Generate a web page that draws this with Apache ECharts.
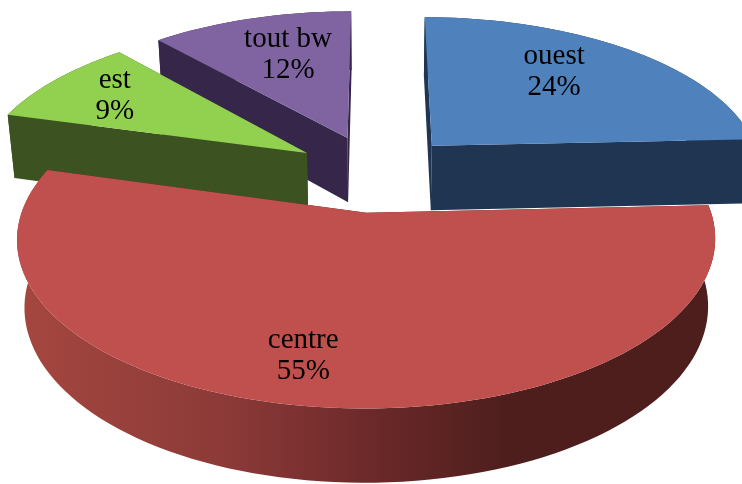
<!DOCTYPE html>
<html>
<head>
<meta charset="utf-8">
<style>
  html, body { margin: 0; padding: 0; background: #fff; }
  #charts { width: 742px; height: 484px; }
</style>
<script src="https://cdn.jsdelivr.net/npm/echarts@6/dist/echarts.min.js"></script>
</head>
<body>
<div id="charts"></div>
<script>
// chart data, clockwise from 12 o'clock
const categories = ["ouest", "centre", "est", "tout bw"];
const shares = [24.4, 55.3, 9.2, 11.6];
const topColors = ["#4f81bd", "#c0504d", "#92d050", "#8064a2"];
const wallColors = ["#1f3552", "#4e1e1d", "#3c5220", "#35264a"];

// fake 3d: the pie lies on a plane seen through a simple perspective
const view = { cx: 376, cy: 173, a: 332, b: 154.5, kx: 0.15, ky: 0.145, h: 67, m: 0.02 };
const explode = 0.25;
const firstAngle = 0;
// label centres on the plane, unit = pie radius
const labelPlaneX = [0.595, -0.186, -0.85, -0.299];
const labelPlaneY = [0.725, -1.01, 0.535, 0.856];

const total = shares.reduce((a, b) => a + b, 0);

function project(x, y, down) {
  const extra = down ? view.m : 0;
  return [
    view.cx + (view.a * x) / (1 + view.kx * y + extra),
    view.cy - (view.b * y - (down ? view.h : 0)) / (1 + view.ky * y + extra),
  ];
}

function startOf(i) {
  const before = shares.slice(0, i).reduce((a, b) => a + b, 0);
  return firstAngle + (before / total) * 360;
}

function midOf(i) {
  return ((startOf(i) + ((shares[i] / total) * 360) / 2) * Math.PI) / 180;
}

// further slices are painted first
function depthRank(i) {
  const order = categories.map((c, j) => j).sort((p, q) => Math.cos(midOf(q)) - Math.cos(midOf(p)));
  return order.indexOf(i);
}

function renderSlice(params, api) {
  const idx = params.dataIndex;
  const start = startOf(idx);
  const sweep = (api.value(0) / total) * 360;
  const ox = explode * Math.sin(midOf(idx));
  const oy = explode * Math.cos(midOf(idx));

  const rimTop = [];
  const rimBottom = [];
  const steps = Math.ceil(sweep / 2);
  for (let i = 0; i <= steps; i++) {
    const t = ((start + (sweep * i) / steps) * Math.PI) / 180;
    const x = ox + Math.sin(t);
    const y = oy + Math.cos(t);
    rimTop.push(project(x, y, false));
    rimBottom.push(project(x, y, true));
  }
  const apexTop = project(ox, oy, false);
  const apexBottom = project(ox, oy, true);
  const z = depthRank(idx) * 10 + 1;

  const wall = wallColors[idx];
  const rimFill =
    categories[idx] === "centre"
      ? new echarts.graphic.LinearGradient(0, 0, 1, 0, [
          { offset: 0, color: "#a5473f" },
          { offset: 0.3, color: "#8c3a38" },
          { offset: 0.5, color: "#6d2a2a" },
          { offset: 0.7, color: wall },
          { offset: 1, color: wall },
        ])
      : wall;

  const labelAt = project(labelPlaneX[idx], labelPlaneY[idx], false);

  return {
    type: "group",
    children: [
      {
        type: "polygon",
        z2: z,
        shape: { points: [apexTop, rimTop[0], rimBottom[0], apexBottom] },
        style: { fill: wall },
      },
      {
        type: "polygon",
        z2: z,
        shape: { points: [apexTop, rimTop[steps], rimBottom[steps], apexBottom] },
        style: { fill: wall },
      },
      {
        type: "polygon",
        z2: z + 1,
        shape: { points: rimTop.concat(rimBottom.slice().reverse()) },
        style: { fill: rimFill },
      },
      {
        type: "polygon",
        z2: z + 2,
        shape: { points: [apexTop].concat(rimTop) },
        style: { fill: topColors[idx] },
      },
      {
        type: "text",
        z2: 100,
        style: {
          text: categories[idx] + "\n" + Math.round((api.value(0) / total) * 100) + "%",
          x: labelAt[0],
          y: labelAt[1],
          fill: "#000",
          font: '29px "Liberation Serif"',
          lineHeight: 31,
          align: "center",
          verticalAlign: "middle",
        },
      },
    ],
  };
}

const myChart = echarts.init(document.getElementById("charts"));
myChart.setOption({
  animation: false,
  backgroundColor: "#fff",
  series: [
    {
      type: "custom",
      coordinateSystem: "none",
      renderItem: renderSlice,
      clip: false,
      silent: true,
      data: categories.map((name, i) => ({ name, value: [shares[i]] })),
    },
  ],
});
</script>
</body>
</html>
